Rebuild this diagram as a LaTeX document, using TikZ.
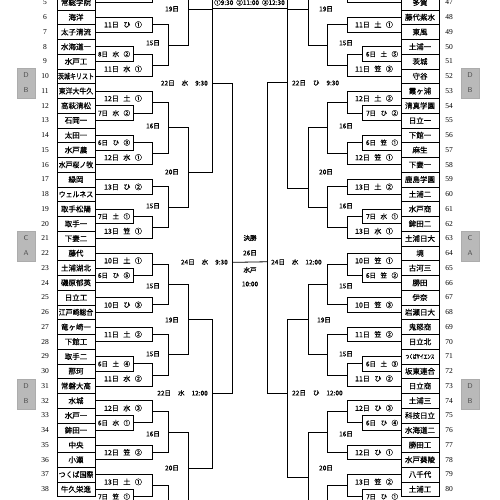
\documentclass[tikz,border=0pt]{standalone}
\usepackage{fontspec}
\usepackage{graphicx}
\setmainfont{Liberation Serif}
\newfontfamily\jp[FakeBold=0.6]{Noto Sans CJK JP}
\usetikzlibrary{calc,positioning}
\newcommand\nar[2]{\scalebox{#1}[1]{#2}}
\newcommand\gm[3]{#1\hspace{4.5pt}#2\hspace{4.5pt}#3}
\newcommand\gt[3]{#1\hspace{7pt}#2\hspace{7pt}#3}
% bracket: upper point, lower point, column, name of the output
\newcommand\brk[5][.5]{%
  \draw[bline] (#2) -| (#4 |- #3) -- (#3);
  \coordinate (#5) at ($(#4 |- #2)!#1!(#4 |- #3)$);}
\tikzset{
 bline/.style={line width=.8pt},
 team/.style={draw,line width=.6pt,minimum width=38pt,minimum height=14.75pt,inner sep=0pt,font=\jp\fontsize{7.5}{8}\selectfont},
 num/.style={inner sep=0pt,font=\fontsize{7.5}{8}\selectfont},
 game/.style={inner sep=0pt,font=\jp\fontsize{7}{8}\selectfont},
 subgame/.style={inner sep=0pt,font=\jp\fontsize{6.5}{7}\selectfont},
 day/.style={inner sep=0pt,font=\jp\fontsize{6.5}{7}\selectfont},
 tag/.style={fill=gray!55,draw=gray!65,minimum width=18pt,minimum height=30pt,inner sep=0pt,align=center,text=black!70,font=\sffamily\fontsize{7}{15}\selectfont}
}
\begin{document}
\begin{tikzpicture}[x=1pt,y=-1pt]
\useasboundingbox (0,0) rectangle (500,500);
\clip (0,0) rectangle (500,500);
% columns
\coordinate (cS) at (133,0);
\coordinate (cA) at (152,0);
\coordinate (cB) at (168,0);
\coordinate (cC) at (188,0);
\coordinate (cD) at (212,0);
\coordinate (cE) at (232,0);
\coordinate (dS) at (362,0);
\coordinate (dA) at (347,0);
\coordinate (dB) at (327,0);
\coordinate (dC) at (308,0);
\coordinate (dD) at (287,0);
\coordinate (dE) at (267,0);
% ends beyond the sheet
\coordinate (uL4) at (95,-12.25);
\coordinate (uL39) at (95,504);
\coordinate (uL41) at (152,522);
\coordinate (pL1) at (168,-27);
\coordinate (uR46) at (400,-12.25);
\coordinate (uR81) at (400,504);
\coordinate (uR83) at (347,522);
\coordinate (pR41) at (327,-27);

% teams
\foreach \n/\s in {5/常総学院,6/海洋,7/太子清流,8/水海道一,9/水戸工,10/{\nar{.8}{茨城キリスト}},
  11/{\nar{.92}{東洋大牛久}},12/高萩清松,13/石岡一,14/太田一,15/水戸農,16/{\nar{.92}{水戸桜ノ牧}},
  17/緑岡,18/{\nar{.92}{ウェルネス}},19/取手松陽,20/取手一,21/下妻二,22/藤代,23/土浦湖北,
  24/磯原郁英,25/日立工,26/{\nar{.92}{江戸崎総合}},27/竜ヶ崎一,28/下館工,29/取手二,30/那珂,
  31/常磐大高,32/水城,33/水戸一,34/鉾田一,35/中央,36/小瀬,37/{\nar{.92}{つくば国際}},38/牛久栄進}{
  \node[team] (t\n) at (76,{2.5+(\n-5)*14.75}) {\s};
  \node[num] (n\n) at (45,{2.5+(\n-5)*14.75}) {\n};
}
\foreach \n/\s in {47/多賀,48/藤代紫水,49/東風,50/土浦一,51/茨城,52/守谷,53/霞ヶ浦,54/清真学園,
  55/日立一,56/下館一,57/麻生,58/下妻一,59/鹿島学園,60/土浦二,61/水戸商,62/鉾田二,63/土浦日大,
  64/境,65/古河三,66/勝田,67/伊奈,68/岩瀬日大,69/鬼怒商,70/日立北,71/{\nar{.6}{\fontsize{6}{7}\selectfont つくばサイエンス}},
  72/坂東連合,73/日立商,74/土浦三,75/科技日立,76/水海道二,77/勝田工,78/水戸葵陵,79/八千代,80/土浦工}{
  \node[team] (t\n) at (420,{2.5+(\n-47)*14.75}) {\s};
  \node[num] (n\n) at (449,{2.5+(\n-47)*14.75}) {\n};
}

% zone tags
\node[tag] (zL1) at (26,83) {D\\B};
\node[tag] (zL2) at (26,246) {C\\A};
\node[tag] (zL3) at (26,394) {D\\B};
\node[tag] (zR1) at (470,83) {D\\B};
\node[tag] (zR2) at (470,246) {C\\A};
\node[tag] (zR3) at (470,394) {D\\B};

% left half
\brk{uL4}{t5.east}{cA}{mL4}
\brk{t6.east}{t7.east}{cA}{mL6}
\brk{t8.east}{t9.east}{cS}{sL8}
\brk{sL8}{t10.east}{cA}{mL8}
\brk{mL6}{mL8}{cB}{pL6}
\brk{pL1}{pL6}{cC}{rL1}
\brk{t12.east}{t13.east}{cS}{sL12}
\brk{t11.east}{sL12}{cA}{mL11}
\brk{t14.east}{t15.east}{cS}{sL14}
\brk{sL14}{t16.east}{cA}{mL14}
\brk{mL11}{mL14}{cB}{pL11}
\brk{t17.east}{t18.east}{cA}{mL17}
\brk{t19.east}{t20.east}{cS}{sL19}
\brk{sL19}{t21.east}{cA}{mL19}
\brk{mL17}{mL19}{cB}{pL17}
\brk[.56]{pL11}{pL17}{cC}{rL11}
\brk[.454]{rL1}{rL11}{cD}{qL1}
\brk{t23.east}{t24.east}{cS}{sL23}
\brk{t22.east}{sL23}{cA}{mL22}
\brk{t25.east}{t26.east}{cA}{mL25}
\brk{mL22}{mL25}{cB}{pL22}
\brk{t27.east}{t28.east}{cA}{mL27}
\brk{t29.east}{t30.east}{cS}{sL29}
\brk{sL29}{t31.east}{cA}{mL29}
\brk{mL27}{mL29}{cB}{pL27}
\brk{pL22}{pL27}{cC}{rL22}
\brk{t33.east}{t34.east}{cS}{sL33}
\brk{t32.east}{sL33}{cA}{mL32}
\brk{t35.east}{t36.east}{cA}{mL35}
\brk{mL32}{mL35}{cB}{pL32}
\brk{t38.east}{uL39}{cS}{sL38}
\brk{t37.east}{sL38}{cA}{mL37}
\brk{mL37}{uL41}{cB}{pL37}
\brk{pL32}{pL37}{cC}{rL32}
\brk{rL22}{rL32}{cD}{qL22}
\brk[.577]{qL1}{qL22}{cE}{sfL}

% right half
\brk{uR46}{t47.west}{dA}{mR46}
\brk{t48.west}{t49.west}{dA}{mR48}
\brk{t50.west}{t51.west}{dS}{sR50}
\brk{sR50}{t52.west}{dA}{mR50}
\brk{mR48}{mR50}{dB}{pR48}
\brk{pR41}{pR48}{dC}{rR41}
\brk{t54.west}{t55.west}{dS}{sR54}
\brk{t53.west}{sR54}{dA}{mR53}
\brk{t56.west}{t57.west}{dS}{sR56}
\brk{sR56}{t58.west}{dA}{mR56}
\brk{mR53}{mR56}{dB}{pR53}
\brk{t59.west}{t60.west}{dA}{mR59}
\brk{t61.west}{t62.west}{dS}{sR61}
\brk{sR61}{t63.west}{dA}{mR61}
\brk{mR59}{mR61}{dB}{pR59}
\brk[.758]{pR53}{pR59}{dC}{rR53}
\brk[.413]{rR41}{rR53}{dD}{qR41}
\brk{t65.west}{t66.west}{dS}{sR65}
\brk{t64.west}{sR65}{dA}{mR64}
\brk{t67.west}{t68.west}{dA}{mR67}
\brk{mR64}{mR67}{dB}{pR64}
\brk{t69.west}{t70.west}{dA}{mR69}
\brk{t71.west}{t72.west}{dS}{sR71}
\brk{sR71}{t73.west}{dA}{mR71}
\brk{mR69}{mR71}{dB}{pR69}
\brk{pR64}{pR69}{dC}{rR64}
\brk{t75.west}{t76.west}{dS}{sR75}
\brk{t74.west}{sR75}{dA}{mR74}
\brk{t77.west}{t78.west}{dA}{mR77}
\brk{mR74}{mR77}{dB}{pR74}
\brk{t80.west}{uR81}{dS}{sR80}
\brk{t79.west}{sR80}{dA}{mR79}
\brk{mR79}{uR83}{dB}{pR79}
\brk[.63]{pR74}{pR79}{dC}{rR74}
\brk[.465]{rR64}{rR74}{dD}{qR64}
\brk[.577]{qR41}{qR64}{dE}{sfR}

% final
\draw[bline] (sfL) -- (sfR);
\draw[bline] (212,-10) rectangle (287,8);
\node[day] (times) at (249.5,2.5) {①9:30\hspace{3pt}②11:00\hspace{3pt}③12:30};
\node[day] (fin1) at (250,238) {決勝};
\node[day] (fin2) at (250,253) {26日};
\node[day] (fin3) at (250,270) {水戸};
\node[day] (fin4) at (250,284) {10:00};

% left games
\node[game] (gL6) at (123,24.6) {\gm{11日}{ひ}{①}};
\node[subgame] (gL8) at (114,54.1) {\gm{8日}{水}{②}};
\node[game] (gL10) at (123,68.9) {\gm{11日}{水}{①}};
\node[game] (gL11) at (123,98.4) {\gm{12日}{土}{①}};
\node[subgame] (gL12) at (114,113.1) {\gm{7日}{水}{②}};
\node[subgame] (gL14) at (114,142.6) {\gm{6日}{ひ}{③}};
\node[game] (gL16) at (123,157.4) {\gm{12日}{水}{①}};
\node[game] (gL17) at (123,186.9) {\gm{13日}{ひ}{②}};
\node[subgame] (gL19) at (114,216.4) {\gm{7日}{土}{①}};
\node[game] (gL21) at (123,231.1) {\gm{13日}{笠}{①}};
\node[game] (gL22) at (123,260.6) {\gm{10日}{土}{①}};
\node[subgame] (gL23) at (114,275.4) {\gm{6日}{ひ}{⑤}};
\node[game] (gL25) at (123,304.9) {\gm{10日}{ひ}{③}};
\node[game] (gL27) at (123,334.4) {\gm{11日}{土}{②}};
\node[subgame] (gL29) at (114,363.9) {\gm{6日}{土}{④}};
\node[game] (gL31) at (123,378.6) {\gm{11日}{水}{②}};
\node[game] (gL32) at (123,408.1) {\gm{12日}{水}{③}};
\node[subgame] (gL33) at (114,422.9) {\gm{6日}{水}{①}};
\node[game] (gL35) at (123,452.4) {\gm{12日}{笠}{②}};
\node[game] (gL37) at (123,481.9) {\gm{13日}{土}{①}};
\node[subgame] (gL38) at (114,496.6) {\gm{7日}{笠}{①}};
\node[day] (dL6) at (153,43) {15日};
\node[day] (dL11) at (153,126) {16日};
\node[day] (dL17) at (153,206) {15日};
\node[day] (dL22) at (153,286) {15日};
\node[day] (dL27) at (153,354) {15日};
\node[day] (dL32) at (153,434) {16日};
\node[day] (eL1) at (172,9) {19日};
\node[day] (eL11) at (172,172) {20日};
\node[day] (eL22) at (172,320) {19日};
\node[day] (eL32) at (172,468) {20日};
\node[day,anchor=east] (fL1) at (208,83) {\gt{22日}{水}{9:30}};
\node[day,anchor=east] (fL22) at (208,393) {\gt{22日}{水}{12:00}};
\node[day,anchor=east] (hL) at (228,262) {\gt{24日}{水}{9:30}};

% right games
\node[game] (gR48) at (374,24.6) {\gm{11日}{土}{①}};
\node[subgame] (gR50) at (382,54.1) {\gm{6日}{土}{⑤}};
\node[game] (gR52) at (374,68.9) {\gm{11日}{笠}{③}};
\node[game] (gR53) at (374,98.4) {\gm{12日}{土}{②}};
\node[subgame] (gR54) at (382,113.1) {\gm{7日}{ひ}{②}};
\node[subgame] (gR56) at (382,142.6) {\gm{6日}{笠}{①}};
\node[game] (gR58) at (374,157.4) {\gm{12日}{笠}{①}};
\node[game] (gR59) at (374,186.9) {\gm{13日}{土}{②}};
\node[subgame] (gR61) at (382,216.4) {\gm{7日}{水}{①}};
\node[game] (gR63) at (374,231.1) {\gm{13日}{水}{①}};
\node[game] (gR64) at (374,260.6) {\gm{10日}{笠}{①}};
\node[subgame] (gR65) at (382,275.4) {\gm{6日}{笠}{②}};
\node[game] (gR67) at (374,304.9) {\gm{10日}{笠}{③}};
\node[game] (gR69) at (374,334.4) {\gm{11日}{笠}{②}};
\node[subgame] (gR71) at (382,363.9) {\gm{6日}{土}{③}};
\node[game] (gR73) at (374,378.6) {\gm{11日}{ひ}{②}};
\node[game] (gR74) at (374,408.1) {\gm{12日}{ひ}{③}};
\node[subgame] (gR75) at (382,422.9) {\gm{6日}{ひ}{④}};
\node[game] (gR77) at (374,452.4) {\gm{12日}{ひ}{①}};
\node[game] (gR79) at (374,481.9) {\gm{13日}{笠}{②}};
\node[subgame] (gR80) at (382,496.6) {\gm{7日}{ひ}{①}};
\node[day] (dR48) at (346,43) {15日};
\node[day] (dR53) at (346,126) {16日};
\node[day] (dR59) at (346,206) {16日};
\node[day] (dR64) at (346,286) {15日};
\node[day] (dR69) at (346,354) {15日};
\node[day] (dR74) at (346,434) {16日};
\node[day] (eR41) at (326,9) {19日};
\node[day] (eR53) at (326,172) {20日};
\node[day] (eR64) at (324,320) {19日};
\node[day] (eR74) at (326,468) {20日};
\node[day,anchor=west] (fR41) at (292,83) {\gt{22日}{ひ}{9:30}};
\node[day,anchor=west] (fR64) at (292,393) {\gt{22日}{ひ}{12:00}};
\node[day,anchor=west] (hR) at (271,262) {\gt{24日}{水}{12:00}};
\end{tikzpicture}
\end{document}
